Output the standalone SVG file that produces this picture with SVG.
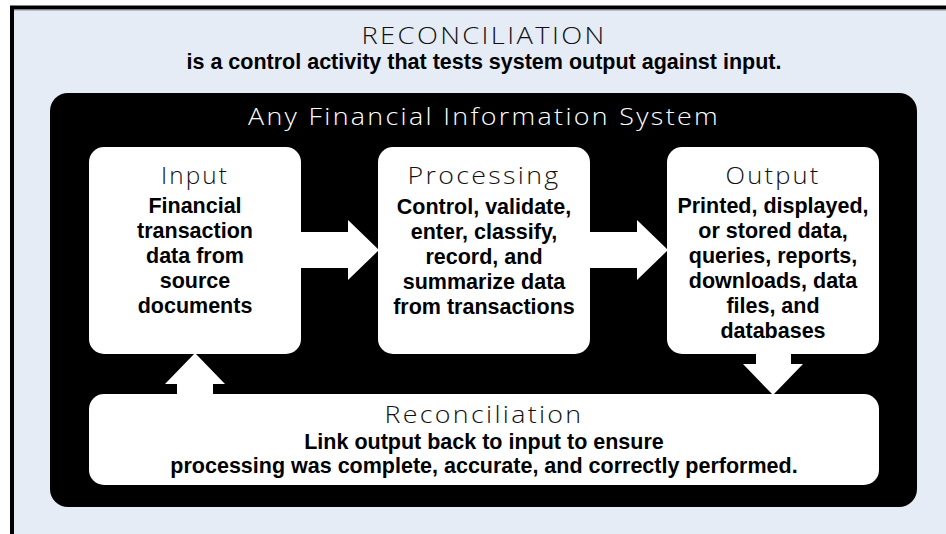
<svg xmlns="http://www.w3.org/2000/svg" width="946" height="534" viewBox="0 0 946 534">
<style>
.head{font-family:"Open Sans","DejaVu Sans",sans-serif;font-weight:300;font-size:23px;letter-spacing:2px;fill:#111;text-anchor:middle}
.body{font-family:"Liberation Sans",Arial,sans-serif;font-weight:bold;font-size:21.5px;fill:#000;text-anchor:middle}
.box{fill:#fff}
.arrow{fill:#fff}
</style>
<rect x="0" y="0" width="946" height="534" fill="#fff"/>
<g id="frame">
<rect x="12" y="7.5" width="960" height="560" fill="#E5ECF6" stroke="#000" stroke-width="4"/>
<line x1="14" y1="10" x2="946" y2="10" stroke="#8a8f96" stroke-width="1"/>
<text class="head" x="484" y="44" font-size="24" textLength="245" lengthAdjust="spacingAndGlyphs">RECONCILIATION</text>
<text class="body" x="484" y="69" font-size="22">is a control activity that tests system output against input.</text>
</g>
<g id="system">
<rect x="50" y="93" width="867" height="414" rx="18" fill="#000"/>
<text class="head" x="484" y="125" font-size="24" style="fill:#fff" textLength="472" lengthAdjust="spacingAndGlyphs">Any Financial Information System</text>
</g>
<g id="connectors">
<polygon class="arrow" points="299,232 348,232 348,220 379,250 348,280 348,268 299,268"/>
<polygon class="arrow" points="588,232 637,232 637,220 668,250 637,280 637,268 588,268"/>
<polygon class="arrow" points="177,396 177,384 165,384 195,353 225,384 213,384 213,396"/>
<polygon class="arrow" points="756,352 791,352 791,364 803,364 773,395 743,364 756,364"/>
</g>
<g id="input">
<rect class="box" x="89" y="147" width="212" height="207" rx="15"/>
<text class="head" x="195" y="184" textLength="68" lengthAdjust="spacingAndGlyphs">Input</text>
<text class="body" x="195" y="213">Financial</text>
<text class="body" x="195" y="238">transaction</text>
<text class="body" x="195" y="263">data from</text>
<text class="body" x="195" y="288">source</text>
<text class="body" x="195" y="313">documents</text>
</g>
<g id="processing">
<rect class="box" x="378" y="147" width="212" height="207" rx="15"/>
<text class="head" x="484" y="184" textLength="153" lengthAdjust="spacingAndGlyphs">Processing</text>
<text class="body" x="484" y="214">Control, validate,</text>
<text class="body" x="484" y="239">enter, classify,</text>
<text class="body" x="484" y="264">record, and</text>
<text class="body" x="484" y="289">summarize data</text>
<text class="body" x="484" y="314">from transactions</text>
</g>
<g id="output">
<rect class="box" x="667" y="147" width="212" height="207" rx="15"/>
<text class="head" x="773" y="184" textLength="95" lengthAdjust="spacingAndGlyphs">Output</text>
<text class="body" x="773" y="213">Printed, displayed,</text>
<text class="body" x="773" y="238">or stored data,</text>
<text class="body" x="773" y="263">queries, reports,</text>
<text class="body" x="773" y="288">downloads, data</text>
<text class="body" x="773" y="313">files, and</text>
<text class="body" x="773" y="338">databases</text>
</g>
<g id="reconciliation">
<rect class="box" x="89" y="394" width="790" height="91" rx="15"/>
<text class="head" x="484" y="423" font-size="24" textLength="199" lengthAdjust="spacingAndGlyphs">Reconciliation</text>
<text class="body" x="484" y="449">Link output back to input to ensure</text>
<text class="body" x="484" y="473">processing was complete, accurate, and correctly performed.</text>
</g>
</svg>
